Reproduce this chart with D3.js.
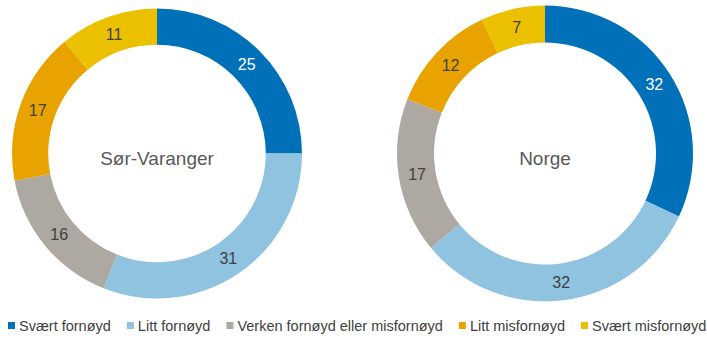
<!DOCTYPE html>
<html>
<head>
<meta charset="utf-8">
<script src="https://cdn.jsdelivr.net/npm/d3@7"></script>
<style>
  html, body { margin: 0; padding: 0; background: #fff; }
  svg { display: block; font-family: "Liberation Sans", Arial, sans-serif; }
</style>
</head>
<body>
<svg id="chart" width="707" height="338"></svg>
<script>
// Satisfaction categories (legend order, clockwise from 12 o'clock)
const categories = [
  "Svært fornøyd",
  "Litt fornøyd",
  "Verken fornøyd eller misfornøyd",
  "Litt misfornøyd",
  "Svært misfornøyd"
];
const colors = ["#0070B8", "#8FC3DF", "#ADA8A1", "#E8A300", "#EAC000"];

// Percent shares per area
const regions = ["Sør-Varanger", "Norge"];
const sorVaranger = [25, 31, 16, 17, 11];
const norge = [32, 32, 17, 12, 7];

const svg = d3.select("#chart");
const color = d3.scaleOrdinal().domain(categories).range(colors);

const pie = d3.pie().sort(null).value(d => d.value);

function drawDonut(name, values, cx, cy, outer) {
  const inner = outer * 0.75;
  const data = categories.map((c, i) => ({ category: c, value: values[i] }));
  const arcs = pie(data);
  const arc = d3.arc().innerRadius(inner).outerRadius(outer);
  const labelArc = d3.arc().innerRadius((inner + outer) / 2).outerRadius((inner + outer) / 2);

  const g = svg.append("g").attr("transform", `translate(${cx},${cy})`);
  g.selectAll("path.slice")
    .data(arcs)
    .join("path")
    .attr("class", "slice")
    .attr("d", arc)
    .attr("fill", d => color(d.data.category));

  g.selectAll("text.value")
    .data(arcs)
    .join("text")
    .attr("class", "value")
    .attr("transform", d => `translate(${labelArc.centroid(d)})`)
    .attr("text-anchor", "middle")
    .attr("dy", "0.36em")
    .attr("font-size", 16)
    .attr("fill", d => d.data.category === categories[0] ? "#ffffff" : "#404040")
    .text(d => d.data.value);

  g.append("text")
    .attr("text-anchor", "middle")
    .attr("y", 5)
    .attr("dy", "0.36em")
    .attr("font-size", 19)
    .attr("fill", "#595959")
    .text(name);
}

drawDonut(regions[0], sorVaranger, 157, 153.5, 145);
drawDonut(regions[1], norge, 545, 153.5, 148);

// Legend along the bottom
const legend = svg.append("g").attr("transform", "translate(8,326)");
let x = 0;
categories.forEach(c => {
  const item = legend.append("g").attr("transform", `translate(${x},0)`);
  item.append("rect")
    .attr("x", 0).attr("y", -4)
    .attr("width", 7).attr("height", 7)
    .attr("fill", color(c));
  const t = item.append("text")
    .attr("x", 11)
    .attr("dy", "0.36em")
    .attr("font-size", 14.5)
    .attr("fill", "#404040")
    .text(c);
  x += 11 + t.node().getComputedTextLength() + 16;
});
</script>
</body>
</html>
